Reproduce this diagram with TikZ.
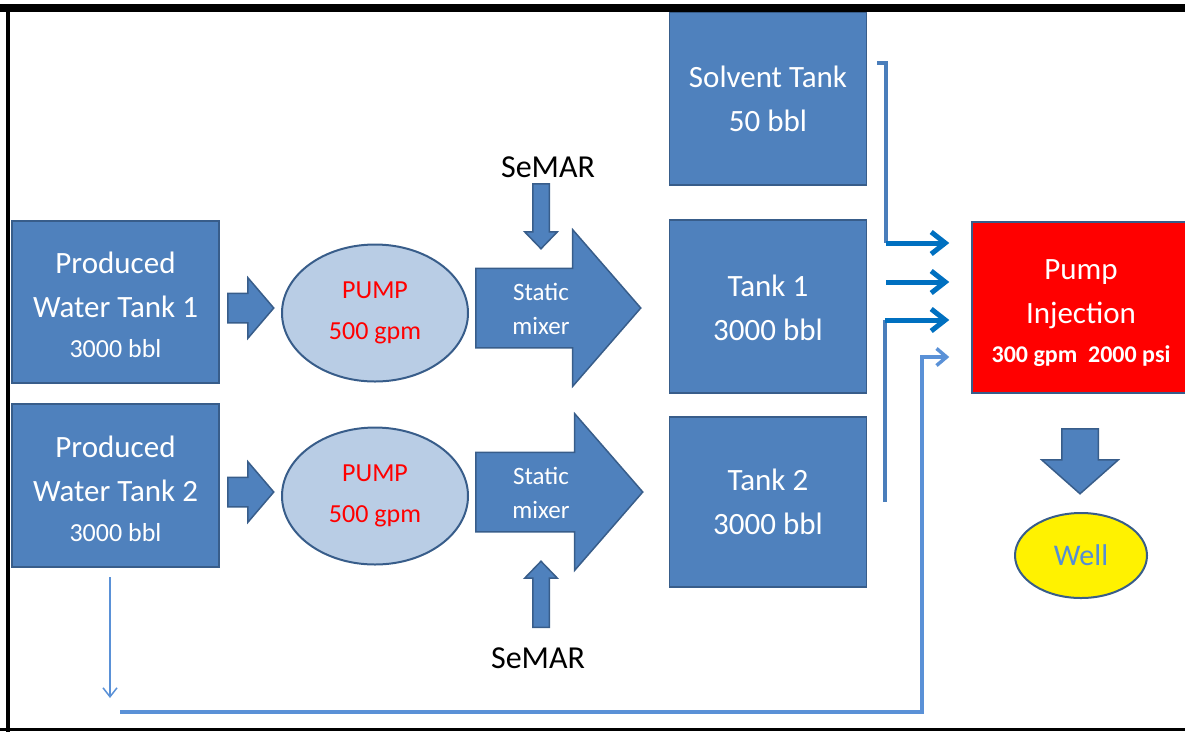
\documentclass[tikz,border=0pt]{standalone}
\usepackage{fontspec}
\setmainfont{Carlito}
\usepackage{xcolor}
\usetikzlibrary{shapes.geometric, shapes.arrows, arrows.meta, calc}

\definecolor{tankblue}{RGB}{79,129,189}
\definecolor{tankedge}{RGB}{56,93,138}
\definecolor{pumpblue}{RGB}{185,205,229}
\definecolor{feedblue}{RGB}{0,112,192}
\definecolor{linkblue}{RGB}{74,126,187}
\definecolor{backblue}{RGB}{90,145,215}
\definecolor{wellblue}{RGB}{85,142,213}

\tikzset{
  tank/.style={rectangle, draw=tankedge, fill=tankblue, line width=1.5pt, text=white,
    align=center, inner sep=0pt, minimum width=197pt, font=\fontsize{31}{44}\selectfont},
  pump/.style={ellipse, draw=tankedge, fill=pumpblue, line width=2pt, text=red,
    align=center, inner sep=0pt, minimum width=186pt, minimum height=137pt,
    font=\fontsize{26}{41}\selectfont},
  blockarrow/.style n args={4}{single arrow, draw=tankedge, fill=tankblue, line width=1.5pt,
    inner sep=0pt, anchor=tail, minimum width=0pt, minimum height=#1,
    text height=#2, text depth=#2, single arrow head extend=#3, single arrow tip angle=#4},
  label/.style={font=\fontsize{32}{40}\selectfont},
  feed/.style={draw=feedblue, line width=5pt, -{Straight Barb[length=14pt,width=22pt]}},
  link/.style={draw=linkblue, line width=3.5pt},
  back/.style={draw=backblue, line width=3.5pt}
}

\begin{document}
\begin{tikzpicture}[x=1pt, y=-1pt]
  \useasboundingbox (0,0) rectangle (1185,732);

  % tanks on the left
  \node[tank, minimum width=207pt, minimum height=162pt] (pw1) at (115.5,302)
    {\rule{0pt}{28pt}Produced\\Water Tank 1\\[-4pt]{\fontsize{26}{30}\selectfont 3000 bbl}};
  \node[tank, minimum width=207pt, minimum height=163pt] (pw2) at (115.5,485.5)
    {\rule{0pt}{28pt}Produced\\Water Tank 2\\[-4pt]{\fontsize{26}{30}\selectfont 3000 bbl}};

  \node[blockarrow={46pt}{14pt}{15.5pt}{99}] (a1) at (227,308) {};
  \node[blockarrow={46pt}{14pt}{15.5pt}{99}] (a2) at (227,492) {};

  % pumps
  \node[pump] (pump1) at (375,313) {PUMP\\500 gpm};
  \node[pump] (pump2) at (375,496) {PUMP\\500 gpm};

  % static mixers
  \node[blockarrow={165pt}{39pt}{38.5pt}{98}] (mix1) at (475,308) {};
  \node[blockarrow={167pt}{39pt}{38.5pt}{98}] (mix2) at (475,492) {};
  \node[text=white, align=center, font=\fontsize{25}{34}\selectfont] (mix1txt) at (541,309) {Static\\mixer};
  \node[text=white, align=center, font=\fontsize{25}{34}\selectfont] (mix2txt) at (541,493) {Static\\mixer};

  % SeMAR dosing
  \node[label] (semar1) at (548,167) {SeMAR};
  \node[label] (semar2) at (538,658) {SeMAR};
  \node[blockarrow={65pt}{7.5pt}{8pt}{88}, rotate=-90] (d1) at (541,183) {};
  \node[blockarrow={66pt}{7.5pt}{8pt}{88}, rotate=90] (d2) at (541,628) {};

  % tanks in the middle
  \node[tank, minimum height=173pt] (sol) at (768,98.5) {Solvent Tank\\50 bbl};
  \node[tank, minimum height=173pt] (tk1) at (768,306.5) {\rule{0pt}{24pt}Tank 1\\3000 bbl};
  \node[tank, minimum height=170pt] (tk2) at (768,502) {Tank 2\\3000 bbl};

  % injection pump and well
  \node[tank, fill=red, minimum width=218pt, minimum height=171pt] (inj) at (1081,307.5)
    {\rule{0pt}{32pt}Pump\\Injection\\[-5pt]{\fontsize{24}{30}\selectfont\bfseries 300 gpm~ 2000 psi}};
  \node[blockarrow={65pt}{17.5pt}{20pt}{97}, rotate=-90] (wa) at (1080,428) {};
  \node[ellipse, draw=tankedge, fill=yellow, line width=2pt, text=wellblue, inner sep=0pt,
    minimum width=132pt, minimum height=85pt, font=\fontsize{30}{36}\selectfont] (well) at (1081,555.5) {Well};

  % feed lines
  \coordinate (s0) at (877,63);
  \coordinate (f1) at (886,243);
  \coordinate (f2) at (886,282);
  \coordinate (f3) at (885,320);
  \coordinate (t2) at (885,502);
  \draw[link] (s0) -| (f1);
  \draw[link] (t2) -- (f3);
  \draw[feed] (f1) -- ($(inj.west |- f1)+(-22,0)$);
  \draw[feed] (f2) -- ($(inj.west |- f2)+(-22,0)$);
  \draw[feed] (f3) -- ($(inj.west |- f3)+(-22,0)$);

  % return line
  \coordinate (d0) at (110,577);
  \coordinate (d9) at (110,698);
  \coordinate (rb) at (120,712);
  \coordinate (r4) at (922,357);
  \draw[draw=backblue, line width=1.5pt, -{Straight Barb[length=9pt,width=14pt]}] (d0) -- (d9);
  \draw[back, -{Straight Barb[length=10pt,width=17pt]}] (rb) -| (r4) -- ($(inj.west |- r4)+(-22,0)$);

  % frame
  \draw[line width=8pt] (0,8) -- (1190,8);
  \draw[line width=4pt] (7.5,4) -- (7.5,732);
  \draw[line width=3pt] (0,729.5) -- (1190,729.5);
\end{tikzpicture}
\end{document}
